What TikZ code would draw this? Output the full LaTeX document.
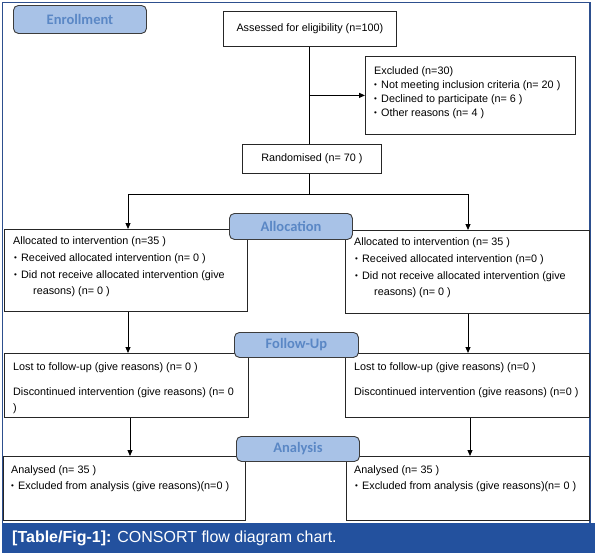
\documentclass[tikz,border=0pt]{standalone}
\usepackage{fontspec}
\setmainfont{Liberation Sans}
\newfontfamily\carlito{Carlito}
\usetikzlibrary{arrows.meta}
\definecolor{stagefill}{HTML}{A8C2E7}
\definecolor{stagedraw}{HTML}{3C3C3C}
\definecolor{stagetext}{HTML}{5A87C5}
\definecolor{barblue}{HTML}{23519E}
\definecolor{frameblue}{HTML}{2D4F8E}
\begin{document}
\begin{tikzpicture}[x=1pt,y=-1pt,
  box/.style={draw=black!85, line width=0.8pt, rectangle, inner sep=0pt, anchor=north west, fill=white},
  stage/.style={draw=stagedraw, line width=0.9pt, fill=stagefill, rounded corners=5pt, inner sep=0pt, anchor=north west, text=stagetext, font=\carlito\bfseries\fontsize{14.5}{15}\selectfont},
  txt/.style={anchor=west, inner sep=0pt, font=\fontsize{10.8}{12}\selectfont},
  bul/.style={anchor=west, inner sep=0pt, font=\fontsize{8}{8}\selectfont},
  arr/.style={line width=1pt, -{Triangle[length=6pt,width=5pt]}},
  ln/.style={line width=1pt}
]
\useasboundingbox (0,0) rectangle (598,555);
% frame and caption
\draw[frameblue, line width=1.1pt] (2.5,523) -- (2.5,2.5) -- (590,2.5) -- (590,523);
\node[fill=barblue, minimum width=593pt, minimum height=30pt, inner sep=0pt, anchor=north west] (bar) at (2,523) {};
\node[anchor=west, inner sep=0pt, text=white, font=\fontsize{16}{18}\selectfont] (cap) at (12,538) {\textbf{[Table/Fig-1]:} CONSORT flow diagram chart.};

% enrollment
\node[stage, minimum width=133pt, minimum height=28pt] (enroll) at (13,5) {Enrollment};
\node[box, minimum width=173pt, minimum height=35pt] (assess) at (223,11) {};
\node[txt, anchor=center] (assesst) at (assess.center) {Assessed for eligibility (n=100)};
\node[box, minimum width=210pt, minimum height=78pt] (excl) at (365,56) {};
\node[txt] (ex1) at (374,72) {Excluded (n=30)};
\node[bul] (exb1) at (374,86) {•};
\node[txt] (ex2) at (381,86) {Not meeting inclusion criteria (n= 20 )};
\node[bul] (exb2) at (374,100) {•};
\node[txt] (ex3) at (381,100) {Declined to participate (n= 6 )};
\node[bul] (exb3) at (374,114) {•};
\node[txt] (ex4) at (381,114) {Other reasons (n= 4 )};
\node[box, minimum width=139pt, minimum height=29pt] (rand) at (242,144) {};
\node[txt, anchor=center] (randt) at (rand.center) {Randomised (n= 70 )};

\coordinate (splitL) at (128,194);
\coordinate (splitR) at (468,194);

% allocation boxes
\node[box, minimum width=243pt, minimum height=82pt] (allocL) at (4,229) {};
\node[txt] (al1) at (13,242) {Allocated to intervention (n=35 )};
\node[bul] (alb2) at (14,259) {•};
\node[txt] (al2) at (21,259) {Received allocated intervention (n= 0 )};
\node[bul] (alb3) at (14,276) {•};
\node[txt] (al3) at (21,276) {Did not receive allocated intervention (give};
\node[txt] (al4) at (33,292) {reasons) (n= 0 )};

\node[box, minimum width=244pt, minimum height=83pt] (allocR) at (345,230) {};
\node[txt] (ar1) at (354,243) {Allocated to intervention (n= 35 )};
\node[bul] (arb2) at (355,260) {•};
\node[txt] (ar2) at (362,260) {Received allocated intervention (n=0 )};
\node[bul] (arb3) at (355,277) {•};
\node[txt] (ar3) at (362,277) {Did not receive allocated intervention (give};
\node[txt] (ar4) at (374,293) {reasons) (n= 0 )};

% follow-up boxes
\node[box, minimum width=244pt, minimum height=64pt] (lostL) at (4,353) {};
\node[txt] (ll1) at (13,368) {Lost to follow-up (give reasons) (n= 0 )};
\node[txt] (ll2) at (13,393) {Discontinued intervention (give reasons) (n= 0};
\node[txt] (ll3) at (13,409) {)};
\node[box, minimum width=244pt, minimum height=64pt] (lostR) at (345,353) {};
\node[txt] (lr1) at (354,368) {Lost to follow-up (give reasons) (n=0 )};
\node[txt] (lr2) at (354,393) {Discontinued intervention (give reasons) (n=0 )};

% analysis boxes
\node[box, minimum width=242pt, minimum height=64pt] (anaL) at (3,456) {};
\node[txt] (na1) at (11,471) {Analysed (n= 35 )};
\node[bul] (nab2) at (11,487) {•};
\node[txt] (na2) at (18,487) {Excluded from analysis (give reasons)(n=0 )};
\node[box, minimum width=243pt, minimum height=64pt] (anaR) at (346,456) {};
\node[txt] (nr1) at (354,471) {Analysed (n= 35 )};
\node[bul] (nrb2) at (355,487) {•};
\node[txt] (nr2) at (362,487) {Excluded from analysis (give reasons)(n= 0 )};

% connectors
\coordinate (vx) at (309,0);
\draw[ln] (vx |- assess.south) -- (vx |- rand.north);
\draw[arr] (vx |- excl.west) -- (excl.west);
\draw[ln] (vx |- rand.south) -- (vx |- splitL);
\draw[ln] (splitL) -- (splitR);
\draw[arr] (splitL) -- (splitL |- allocL.north);
\draw[arr] (splitR) -- (splitR |- allocR.north);
\draw[arr] (splitL |- allocL.south) -- (splitL |- lostL.north);
\draw[arr] (splitR |- allocR.south) -- (splitR |- lostR.north);
\coordinate (cL) at (130,0);
\coordinate (cR) at (470,0);
\draw[arr] (cL |- lostL.south) -- (cL |- anaL.north);
\draw[arr] (cR |- lostR.south) -- (cR |- anaR.north);

% stage labels
\node[stage, minimum width=123pt, minimum height=26pt] (alloc) at (229,213) {Allocation};
\node[stage, minimum width=124pt, minimum height=25pt] (follow) at (234,332) {Follow-Up};
\node[stage, minimum width=123pt, minimum height=25pt] (analysis) at (236,436) {Analysis};
\end{tikzpicture}
\end{document}
